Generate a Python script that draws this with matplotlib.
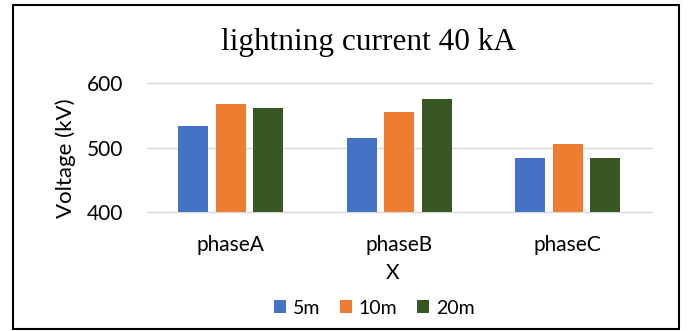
import matplotlib
matplotlib.use("Agg")
import matplotlib.pyplot as plt
from matplotlib.patches import Rectangle, Patch
import numpy as np

categories = ["phaseA", "phaseB", "phaseC"]
series_names = ["5m", "10m", "20m"]
v_5m = [533, 515, 484]
v_10m = [567, 555, 505]
v_20m = [561, 575, 484]
series_values = [v_5m, v_10m, v_20m]
colors = ["#4472C4", "#ED7D31", "#385723"]
yticks = [400, 500, 600]

W, H = 688, 331
fig = plt.figure(figsize=(W / 100, H / 100), dpi=100)
fig.patch.set_facecolor("white")

ax = fig.add_axes([146.7 / W, 1 - 212.3 / H, (651.7 - 146.7) / W, (212.3 - 82.7) / H])
x = np.arange(len(categories))
bw = 0.178
step = 0.223
for i, (vals, c) in enumerate(zip(series_values, colors)):
    ax.bar(x + (i - 1) * step, vals, width=bw, color=c, zorder=3)

ax.set_xlim(-0.5, len(categories) - 0.5)
ax.set_ylim(400, 600)
ax.set_yticks(yticks)
ax.set_xticks(x)
ax.set_xticklabels(categories)
for s in ax.spines.values():
    s.set_visible(False)
ax.tick_params(axis="both", length=0, labelsize=15, colors="black")
ax.tick_params(axis="y", pad=17)
ax.tick_params(axis="x", pad=16)
for lab in ax.get_xticklabels() + ax.get_yticklabels():
    lab.set_fontfamily("Lato")
ax.yaxis.grid(True, color="#D9D9D9", linewidth=1.0, zorder=0)
for gl in ax.get_ygridlines():
    gl.set_clip_on(False)

fig.text(368 / W, 1 - 50 / H, "lightning current 40 kA", ha="center", va="baseline",
         fontsize=22.5, family="Liberation Serif")
fig.text(393 / W, 1 - 273 / H, "X", ha="center", va="center", fontsize=15, family="Lato")
fig.text(66 / W, 1 - 158 / H, "Voltage (kV)", ha="center", va="center", rotation=90,
         fontsize=16, family="Lato")

handles = [Patch(facecolor=c, edgecolor="none") for c in colors]
fig.legend(handles, series_names, loc="center", bbox_to_anchor=(374 / W, 1 - 308 / H),
           ncol=3, frameon=False, prop={"family": "Lato", "size": 14},
           handlelength=0.62, handleheight=0.62, handletextpad=0.36, columnspacing=1.0,
           borderaxespad=0, borderpad=0)

fig.patches.append(Rectangle((13 / W, 1 - 329 / H), (679 - 13) / W, (329 - 5) / H,
                             transform=fig.transFigure, fill=False, edgecolor="black",
                             linewidth=1.5))

fig.savefig("out.png", dpi=100)
